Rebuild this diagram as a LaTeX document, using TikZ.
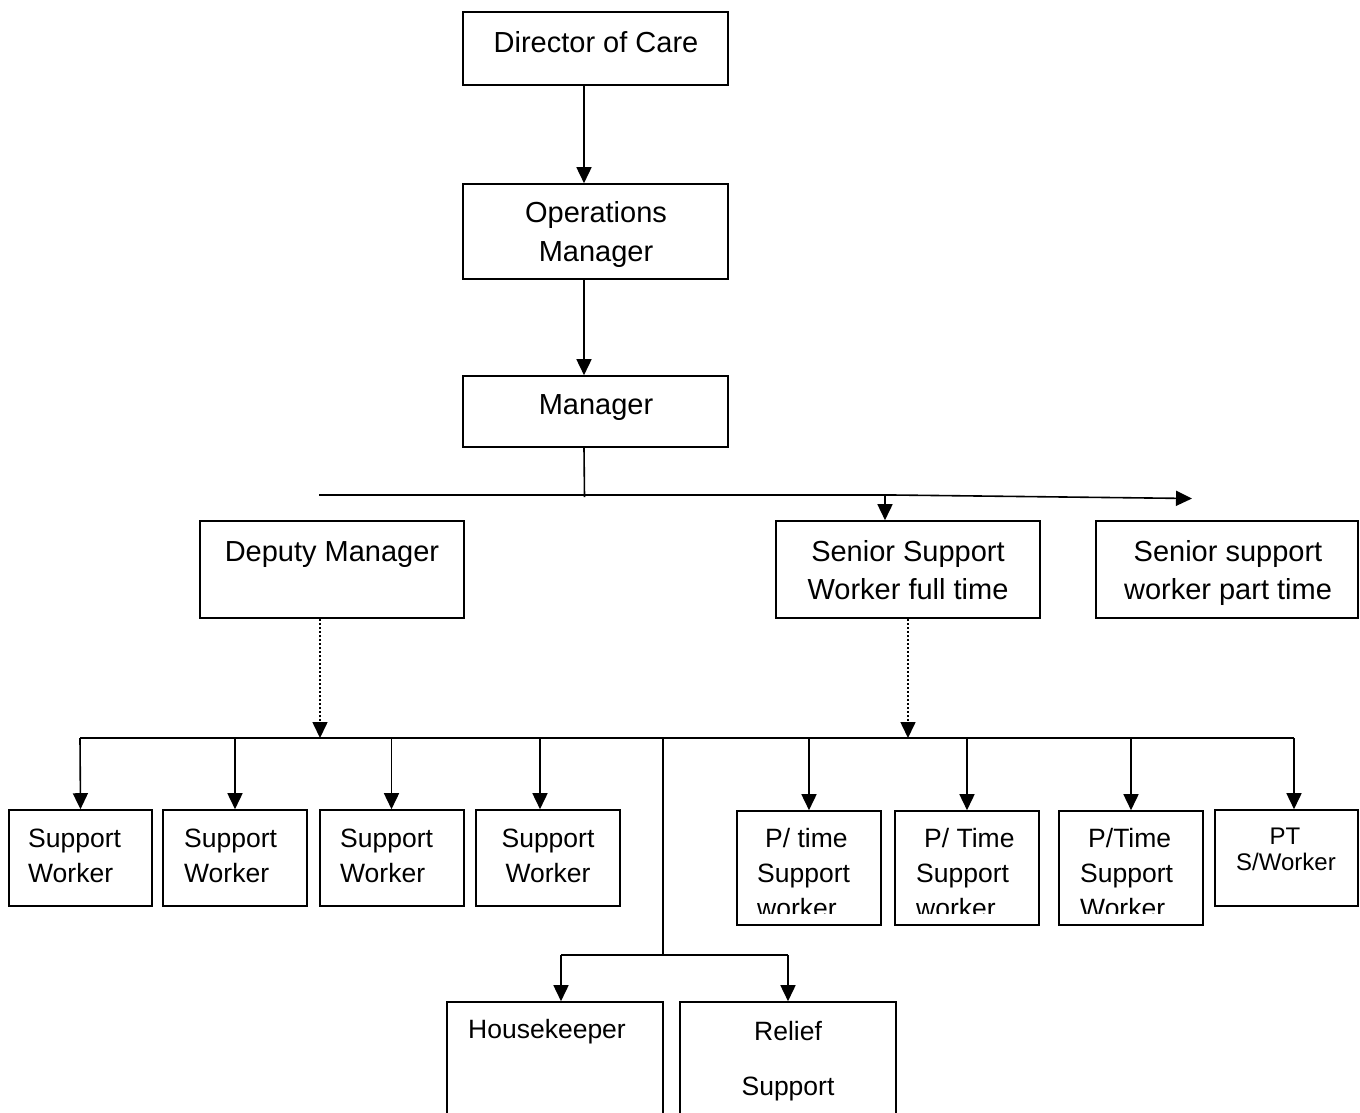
\documentclass[tikz,border=0pt]{standalone}
\usepackage{fontspec}
\setmainfont{Liberation Sans}
\usetikzlibrary{arrows.meta,fit}
\tikzset{
  box/.style={draw, line width=1.6pt, inner sep=0pt},
  conn/.style={line width=1.6pt},
  arr/.style={line width=1.6pt, -{Triangle[length=16pt,width=15pt]}},
  dotarr/.style={line width=1.6pt, dash pattern=on 2pt off 2pt, -{Triangle[length=16pt,width=15pt]}},
  big/.style={inner sep=0pt, font=\fontsize{29}{35}\selectfont},
  med/.style={inner sep=0pt, font=\fontsize{26.5}{32}\selectfont},
  sml/.style={inner sep=0pt, font=\fontsize{24}{29}\selectfont},
}
\begin{document}
\begin{tikzpicture}[x=1pt,y=-1pt]
\useasboundingbox (0,0) rectangle (1360,1112);
% boxes
\node[box, fit={(463,12)(728,85)}] (dir) {};
\node[box, fit={(463,184)(728,279)}] (ops) {};
\node[box, fit={(463,376)(728,447)}] (mgr) {};
\node[box, fit={(200,521)(464,618)}] (dep) {};
\node[box, fit={(776,521)(1040,618)}] (ssw) {};
\node[box, fit={(1096,521)(1358,618)}] (sswp) {};
\node[box, fit={(9,810)(152,906)}] (sw1) {};
\node[box, fit={(163,810)(307,906)}] (sw2) {};
\node[box, fit={(320,810)(464,906)}] (sw3) {};
\node[box, fit={(476,810)(620,906)}] (sw4) {};
\node[box, fit={(737,811)(881,925)}] (pt1) {};
\node[box, fit={(895,811)(1039,925)}] (pt2) {};
\node[box, fit={(1059,811)(1203,925)}] (pt3) {};
\node[box, fit={(1215,810)(1358,906)}] (pt4) {};
\node[box, fit={(447,1002)(663,1130)}] (hk) {};
\node[box, fit={(680,1002)(896,1130)}] (rel) {};
% texts
\node[big, anchor=base] (t1) at (596,52.4) {Director of Care};
\node[big, anchor=base] (t2) at (596,222.4) {Operations};
\node[big, anchor=base] (t3) at (596,261.4) {Manager};
\node[big, anchor=base] (t4) at (596,414.4) {Manager};
\node[big, anchor=base] (t5) at (332,561.4) {Deputy Manager};
\node[big, anchor=base] (t6) at (908,561.4) {Senior Support};
\node[big, anchor=base] (t7) at (908,599.4) {Worker full time};
\node[big, anchor=base] (t8) at (1228,561.4) {Senior support};
\node[big, anchor=base] (t9) at (1228,599.4) {worker part time};
\node[med, anchor=base west] (s1a) at (28,847.5) {Support};
\node[med, anchor=base west] (s1b) at (28,882) {Worker};
\node[med, anchor=base west] (s2a) at (184,847.5) {Support};
\node[med, anchor=base west] (s2b) at (184,882) {Worker};
\node[med, anchor=base west] (s3a) at (340,847.5) {Support};
\node[med, anchor=base west] (s3b) at (340,882) {Worker};
\node[med, anchor=base] (s4a) at (548,847.5) {Support};
\node[med, anchor=base] (s4b) at (548,882) {Worker};
\begin{scope}
\clip (737,811) rectangle (1203,913.5);
\node[med, anchor=base west] (p1a) at (765,847.5) {P/ time};
\node[med, anchor=base west] (p1b) at (757,882.5) {Support};
\node[med, anchor=base west] (p1c) at (757,917) {worker};
\node[med, anchor=base west] (p2a) at (924,847.5) {P/ Time};
\node[med, anchor=base west] (p2b) at (916,882.5) {Support};
\node[med, anchor=base west] (p2c) at (916,917) {worker};
\node[med, anchor=base west] (p3a) at (1088,847.5) {P/Time};
\node[med, anchor=base west] (p3b) at (1080,882.5) {Support};
\node[med, anchor=base west] (p3c) at (1080,917) {Worker};
\end{scope}
\node[sml, anchor=base] (p4a) at (1285,844.6) {PT};
\node[sml, anchor=base] (p4b) at (1286,870.6) {S/Worker};
\node[med, anchor=base west] (h1) at (468,1038.5) {Housekeeper};
\node[med, anchor=base] (r1) at (788,1040.5) {Relief};
\node[med, anchor=base] (r2) at (788,1095.5) {Support};
% connectors
\draw[arr] ([xshift=-11.5pt]dir.south) -- ([xshift=-11.5pt]ops.north);
\draw[arr] ([xshift=-11.5pt]ops.south) -- ([xshift=-11.5pt]mgr.north);
\coordinate (mj) at (584.5,497);
\draw[conn] ([xshift=-11.5pt]mgr.south) -- (mj);
\coordinate (busL) at (319,495);
\coordinate (busM) at (893,495);
\coordinate (busR) at (1192,498.5);
\coordinate (bj) at (885,495);
\draw[conn] (busL) -- (busM);
\draw[arr] (busM) -- (busR);
\draw[arr] (bj) -- ([xshift=-23pt]ssw.north);
\coordinate (d1) at (320,738);
\coordinate (d2) at (908,738);
\draw[dotarr] ([xshift=-12pt]dep.south) -- (d1);
\draw[dotarr] (ssw.south) -- (d2);
\coordinate (bl) at (80,738);
\coordinate (br) at (1294,738);
\draw[conn] (bl) -- (br);
\draw[arr] (bl) -- (sw1.north);
\draw[arr] (235,738) coordinate (b2) -- (sw2.north);
\draw[arr] (391.5,738) coordinate (b3) -- ([xshift=-0.5pt]sw3.north);
\draw[arr] (540,738) coordinate (b4) -- ([xshift=-8pt]sw4.north);
\draw[arr] (809,738) coordinate (b5) -- (pt1.north);
\draw[arr] (967,738) coordinate (b6) -- (pt2.north);
\draw[arr] (1131,738) coordinate (b7) -- (pt3.north);
\draw[arr] (br) -- ([xshift=7.5pt]pt4.north);
\coordinate (mc) at (663,738);
\coordinate (mb) at (663,955);
\coordinate (hl) at (561,955);
\coordinate (hr) at (788,955);
\draw[conn] (mc) -- (mb);
\draw[conn] (hl) -- (hr);
\draw[arr] (hl) -- ([xshift=6pt]hk.north);
\draw[arr] (hr) -- (rel.north);
\end{tikzpicture}
\end{document}
